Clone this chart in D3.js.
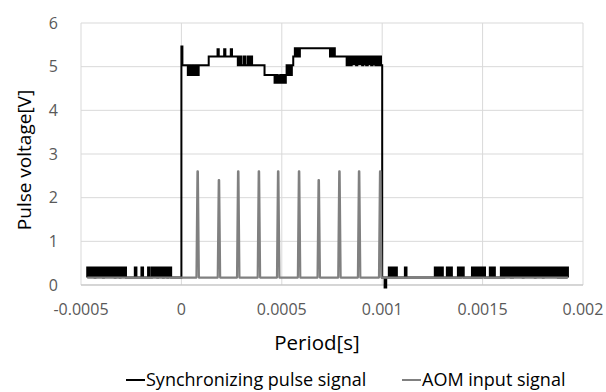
<!DOCTYPE html>
<meta charset="utf-8">
<style>
body { margin: 0; background: #fff; }
svg { font-family: "Open Sans", sans-serif; }
.grid line { stroke: #d9d9d9; stroke-width: 1; }
.tick-label { fill: #595959; font-size: 16px; }
.title { fill: #000; font-size: 19px; }
.legend text { fill: #000; font-size: 18px; }
</style>
<svg width="606" height="392"></svg>
<script src="https://d3js.org/d3.v7.min.js"></script>
<script>
// ticks
var xTicks = [-0.0005, 0, 0.0005, 0.001, 0.0015, 0.002];
var xTickLabels = ["-0.0005", "0", "0.0005", "0.001", "0.0015", "0.002"];
var yTicks = [0, 1, 2, 3, 4, 5, 6];

// synchronizing pulse: base levels [time in us, volt], held until next entry
var syncBase = [
  [-469, 0.17], [0, 5.46], [5, 5.03], [136, 5.23], [281, 5.03], [414, 4.81],
  [524, 5.03], [557, 5.23], [590, 5.42], [740, 5.23], [823, 5.03],
  [1000, 0.17], [1012, -0.06], [1020, 0.17], [1925, 0.17]
];
// noise bursts on top of the base: [start us, end us, volt]
var syncBursts = [
  // left baseline noise
  [-469, -432, 0.4], [-428, -390, 0.4], [-386, -332, 0.4], [-328, -307, 0.4], [-303, -276, 0.4],
  [-232, -224, 0.4], [-199, -191, 0.4], [-166, -158, 0.4],
  [-147, -120, 0.4], [-116, -92, 0.4], [-88, -70, 0.4], [-66, -51, 0.4],
  // top of pulse
  [32, 40, 4.81], [46, 56, 4.81], [62, 72, 4.81], [78, 86, 4.81],
  [180, 186, 5.4], [213, 219, 5.4], [246, 252, 5.4],
  [290, 298, 5.23], [310, 318, 5.23], [330, 338, 5.23], [346, 352, 5.23],
  [464, 474, 4.63], [480, 492, 4.63], [498, 508, 4.63], [512, 520, 4.63],
  [530, 536, 4.81], [544, 550, 4.81],
  [565, 570, 5.42], [576, 582, 5.42],
  [745, 752, 5.42], [757, 764, 5.42],
  [830, 840, 5.23], [848, 870, 5.23], [876, 900, 5.23], [906, 920, 5.23],
  [928, 945, 5.23], [952, 966, 5.23], [972, 980, 5.23], [986, 994, 5.23],
  // right baseline noise
  [1033, 1043, 0.4], [1050, 1060, 0.4], [1065, 1073, 0.4], [1113, 1121, 0.4],
  [1262, 1270, 0.4], [1280, 1290, 0.4], [1296, 1302, 0.4],
  [1322, 1330, 0.4], [1340, 1347, 0.4],
  [1377, 1385, 0.4], [1392, 1406, 0.4],
  [1447, 1455, 0.4], [1462, 1470, 0.4], [1477, 1487, 0.4], [1495, 1512, 0.4],
  [1536, 1545, 0.4], [1553, 1561, 0.4],
  [1591, 1600, 0.4], [1608, 1641, 0.4],
  [1651, 1700, 0.4], [1704, 1760, 0.4], [1764, 1800, 0.4], [1804, 1875, 0.4],
  [1885, 1892, 0.4], [1900, 1908, 0.4], [1916, 1925, 0.4]
];

// AOM input: baseline and pulse peaks [time in us, volt]
var aomBase = 0.17;
var aomStart = -469, aomEnd = 1925;
var aomPeakT = [81, 187, 283, 386, 482, 586, 684, 787, 885, 990];
var aomPeakV = [2.6, 2.4, 2.6, 2.6, 2.6, 2.6, 2.4, 2.6, 2.6, 2.6];

var series = ["Synchronizing pulse signal", "AOM input signal"];
var colors = ["#000000", "#808080"];

var svg = d3.select("svg");
var margin = {left: 81, right: 23, top: 23, bottom: 107};
var W = +svg.attr("width"), H = +svg.attr("height");

var x = d3.scaleLinear().domain([-0.0005, 0.002]).range([margin.left, W - margin.right]);
var y = d3.scaleLinear().domain([0, 6]).range([H - margin.bottom, margin.top]);

// grid
var grid = svg.append("g").attr("class", "grid");
grid.selectAll(".h").data(yTicks).enter().append("line")
  .attr("x1", x.range()[0]).attr("x2", x.range()[1])
  .attr("y1", function(d) { return y(d); }).attr("y2", function(d) { return y(d); });
grid.selectAll(".v").data(xTicks).enter().append("line")
  .attr("y1", y.range()[0]).attr("y2", y.range()[1])
  .attr("x1", function(d) { return x(d); }).attr("x2", function(d) { return x(d); });

// axis line at 0
svg.append("line").attr("x1", x.range()[0]).attr("x2", x.range()[1])
  .attr("y1", y(0)).attr("y2", y(0)).attr("stroke", "#bfbfbf");

// tick labels
svg.selectAll(".ylab").data(yTicks).enter().append("text")
  .attr("class", "tick-label").attr("text-anchor", "end")
  .attr("x", 58).attr("y", function(d) { return y(d); }).attr("dy", "0.35em")
  .text(function(d) { return d; });
svg.selectAll(".xlab").data(xTicks).enter().append("text")
  .attr("class", "tick-label").attr("text-anchor", "middle")
  .attr("x", function(d) { return x(d); }).attr("y", y(0) + 30)
  .text(function(d, i) { return xTickLabels[i]; });

// titles
svg.append("text").attr("class", "title").attr("text-anchor", "middle")
  .style("font-size", "20.5px")
  .attr("x", 317).attr("y", 350).text("Period[s]");
svg.append("text").attr("class", "title").attr("text-anchor", "middle")
  .attr("transform", "translate(31,160) rotate(-90)").text("Pulse voltage[V]");

// build sync step points
function baseAt(t) {
  var v = syncBase[0][1];
  for (var i = 0; i < syncBase.length; i++) if (syncBase[i][0] <= t) v = syncBase[i][1];
  return v;
}
var syncPts = syncBase.map(function(d) { return {t: d[0], v: d[1]}; });
syncBursts.forEach(function(b) {
  syncPts.push({t: b[0], v: b[2]});
  syncPts.push({t: b[1], v: baseAt(b[1])});
});
syncPts.sort(function(a, b) { return a.t - b.t; });

// build AOM points
var aomPts = [{t: aomStart, v: aomBase}];
aomPeakT.forEach(function(c, i) {
  aomPts.push({t: c - 6, v: aomBase});
  aomPts.push({t: c - 1, v: aomPeakV[i]});
  aomPts.push({t: c + 1, v: aomPeakV[i]});
  aomPts.push({t: c + 6, v: aomBase});
});
aomPts.push({t: aomEnd, v: aomBase});

var tx = function(d) { return x(d.t * 1e-6); };
var stepLine = d3.line().curve(d3.curveStepAfter).x(tx).y(function(d) { return y(d.v); });
var linLine = d3.line().x(tx).y(function(d) { return y(d.v); });
// dense noise looks solid: fill between burst level and base
var burstArea = d3.area().curve(d3.curveStepAfter).x(tx)
  .y0(function(d) { return y(baseAt(d.t)); }).y1(function(d) { return y(d.v); });

svg.append("path").datum(syncPts).attr("d", burstArea)
  .attr("fill", colors[0]).attr("stroke", "none");
svg.append("path").datum(syncPts).attr("d", stepLine)
  .attr("fill", "none").attr("stroke", colors[0]).attr("stroke-width", 2);
svg.append("path").datum(aomPts).attr("d", linLine)
  .attr("fill", "none").attr("stroke", colors[1]).attr("stroke-width", 2.2)
  .attr("stroke-linejoin", "round");

// legend
var legend = svg.append("g").attr("class", "legend");
var legX = [126, 402];
series.forEach(function(s, i) {
  legend.append("line").attr("x1", legX[i]).attr("x2", legX[i] + 19)
    .attr("y1", 380).attr("y2", 380).attr("stroke", colors[i]).attr("stroke-width", 2);
  legend.append("text").attr("x", legX[i] + 20).attr("y", 380).attr("dy", "0.35em").text(s);
});
</script>
